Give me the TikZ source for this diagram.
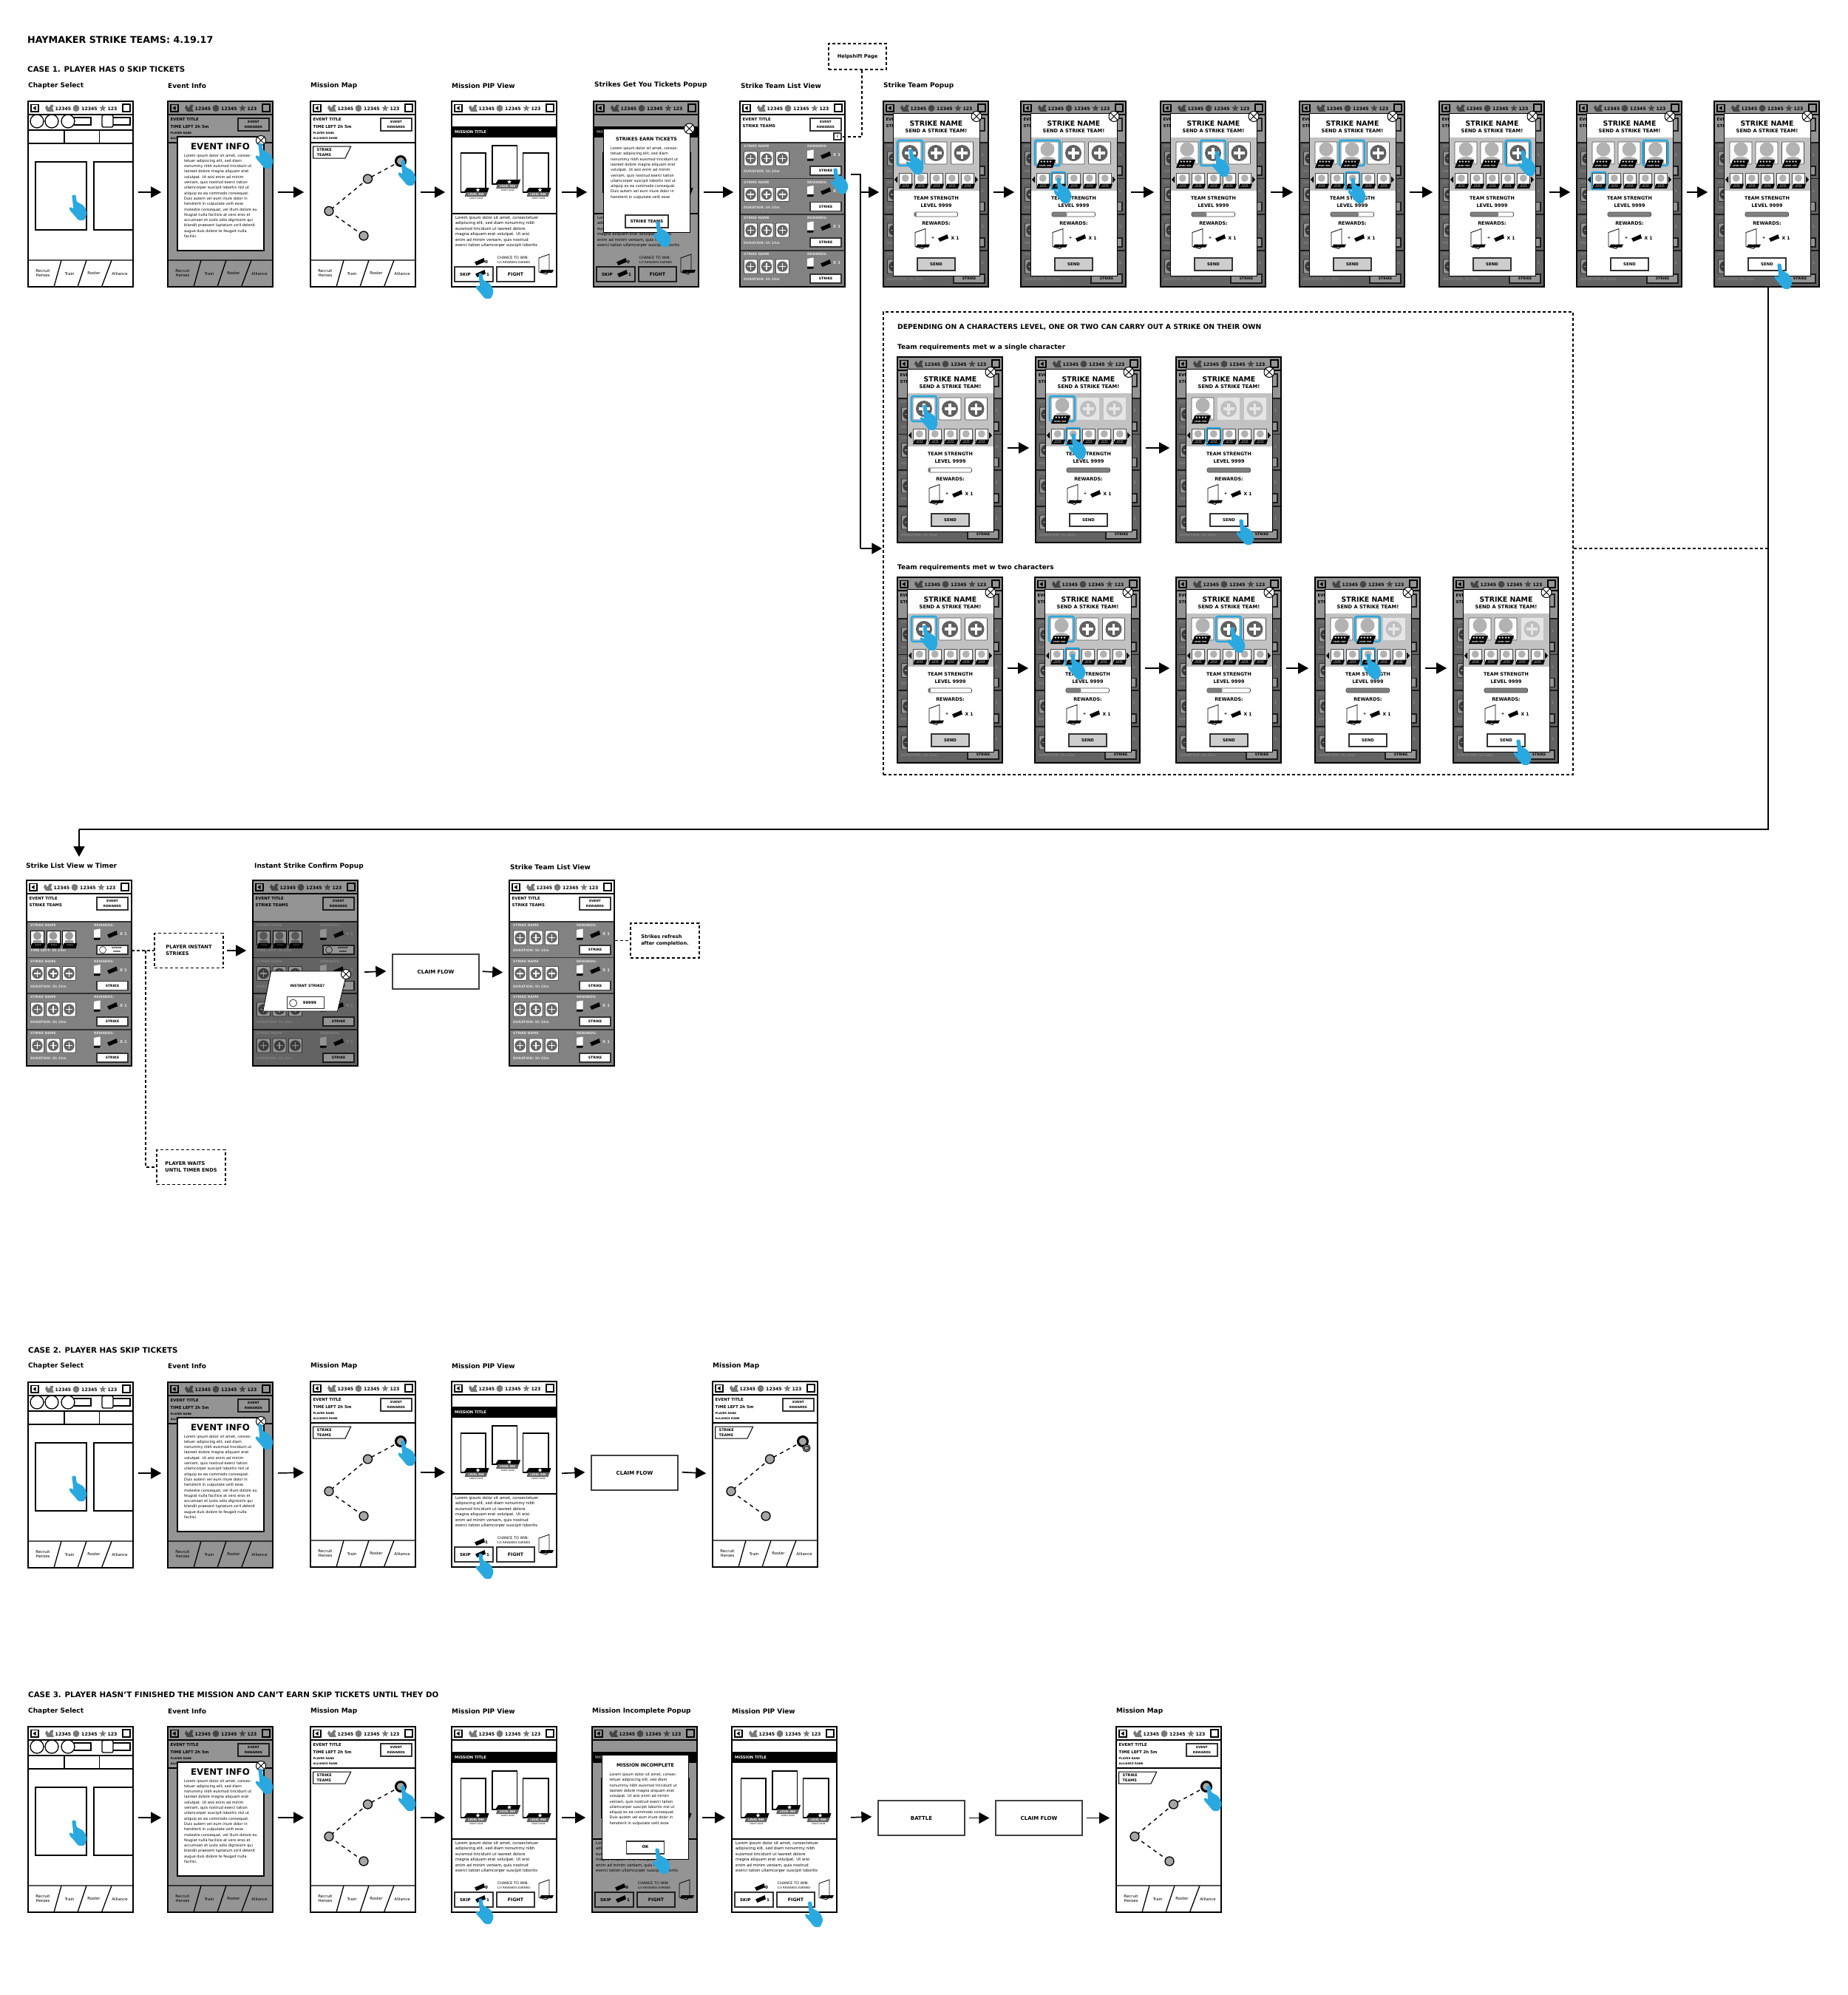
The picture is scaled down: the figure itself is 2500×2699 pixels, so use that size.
\documentclass[tikz,border=0pt]{standalone}
\usepackage{fontspec}
\setmainfont{DejaVu Sans}
\usetikzlibrary{arrows.meta,shapes.geometric}
\definecolor{handblue}{HTML}{29A9E0}
\definecolor{rowgray}{HTML}{828282}
\definecolor{icongray}{HTML}{7A7A7A}
\definecolor{bandgray}{HTML}{C2C2C2}
\definecolor{sendgray}{HTML}{CDCDCD}
\newcommand{\fsz}[2]{\fontsize{#1}{#2}\selectfont}
\tikzset{
 ln/.style={line width=1.3pt,draw=black},
 tb/.style={inner sep=0,anchor=west,font=\bfseries\fsz{#1}{#1}},
 tc/.style={inner sep=0,anchor=center,font=\bfseries\fsz{#1}{#1}},
 tr/.style={inner sep=0,anchor=west,font=\fsz{#1}{#1}},
 trc/.style={inner sep=0,anchor=center,font=\fsz{#1}{#1}},
 frame/.style={draw=black,line width=1.6pt,minimum width=142pt,minimum height=251pt,inner sep=0},
 btn/.style={draw=black!80,line width=1.1pt,fill=white},
 lab/.style={inner sep=0,anchor=west,font=\bfseries\fsz{9}{9}},
 head/.style={inner sep=0,anchor=west,font=\bfseries\fsz{#1}{#1}},
 flow/.style={line width=1.7pt,-{Triangle[length=14pt,width=15pt]},shorten <=#1,shorten >=8pt},
 flow/.default=6pt,
 flowbox/.style={draw=black!75,line width=1.3pt,inner sep=0,fill=white,font=\bfseries\fsz{7}{9},align=center,minimum width=117pt,minimum height=47pt},
 dnote/.style={draw=black,line width=1.6pt,dash pattern=on 4pt off 3pt,inner sep=0,fill=white,align=left,font=\bfseries\fsz{6.6}{9},minimum width=93pt,minimum height=47pt},
 conn/.style={line width=1.6pt},
 dconn/.style={line width=1.5pt,dash pattern=on 4pt off 3pt},
 thinconn/.style={line width=1.2pt,dash pattern=on 4pt off 3pt},
 strs/.style={star,star points=5,star point ratio=2.3,inner sep=0,minimum size=#1,fill=icongray},
}
% ---- small parts
\newcommand{\uiHand}[2]{\fill[handblue,rounded corners=1.6pt,shift={(#1,#2)}]
 (-2.8,-2.4)--(2.6,-2.4)--(3.6,7)--(8,9)--(13,12)--(17,19)--(17.5,24)--(14,32)--(6,32)--(-0.5,24)--(-6,18)--(-6.5,14)--(-3.2,14.5)--(-0.5,17)--cycle;}
\newcommand{\uiTicket}[2]{\fill[black,shift={(#1,#2)}] (-7,0.5)--(3,-3.8)--(5.5,-5)--(7,0.5)--(4.5,1.3)--(-4.5,5)--cycle;}
\newcommand{\uiClose}[3]{\draw[line width=1pt,fill=white] (#1,#2) circle (#3);
 \draw[line width=.9pt] (#1-#3*.7,#2-#3*.7)--(#1+#3*.7,#2+#3*.7) (#1-#3*.7,#2+#3*.7)--(#1+#3*.7,#2-#3*.7);}
\newcommand{\uiCard}[3]{\begin{scope}[shift={(#1,#2)},scale=#3]
 \draw[line width=.8pt,fill=white] (0,5)--(14,0)--(14,23)--(10,27)--(0,24)--cycle;
 \fill[black] (3,21)--(20,21)--(18,25)--(1,25)--cycle;
 \node[tc=3,text=white] at (10,23) {...};
 \end{scope}}
\newcommand{\uiHdr}{%
 \draw[ln,fill=white] (4,4.5) rectangle (14,14);
 \fill (6.5,9.2)--(10.5,6.3)--(10.5,12.2)--cycle;
 \fill[icongray] (25,5)--(28,9)--(31,4.5)--(34.5,5)--(33,9.5)--(35,14)--(26,14)--(23,9)--cycle;
 \node[tc=6.2] at (47.5,9.8) {12345};
 \fill[icongray] (65,9.5) circle (4.5);
 \node[tc=6.2] at (83,9.8) {12345};
 \node[strs=10pt] at (101,9.5) {};
 \node[tc=6.2] at (114,9.8) {123};
 \draw[ln,fill=white] (128,4) rectangle (138,14);
 \draw[ln] (0,18)--(143,18);}
\newcommand{\uiRewardsBtn}{\draw[btn] (95,23) rectangle (137,40);
 \node[tc=4.3] at (116,27.5) {EVENT};
 \node[tc=4.3] at (116,34.5) {REWARDS};}
\newcommand{\uiMapEvt}{%
 \node[tb=5.4] at (3.5,25) {EVENT TITLE};
 \node[tb=5.4] at (3.5,34) {TIME LEFT 2h 5m};
 \node[tb=3.7] at (3.5,43) {PLAYER RANK};
 \node[tb=3.7] at (3.5,50) {ALLIANCE RANK};
 \uiRewardsBtn
 \draw[ln] (0,56)--(143,56);}
\newcommand{\uiTabs}{%
 \draw[ln] (0,215)--(143,215) (45,215)--(35,251) (79,215)--(67,251) (113,215)--(99.5,251);
 \node[trc=5.4] at (20,229) {Recruit};
 \node[trc=5.4] at (20,235.5) {Heroes};
 \node[trc=5.4] at (56,233) {Train};
 \node[trc=5.4] at (89,233) {Roster};
 \node[trc=5.4] at (124,233) {Alliance};}
% ---- screens
\newcommand{\uiChapter}[3]{\begin{scope}[shift={(#2,#3)}]
 \fill[white] (0,0) rectangle (142,251);
 \uiHdr
 \draw[ln] (12,27) circle (9) (32,27) circle (9);
 \draw[ln] (54,27) circle (9);
 \draw[ln] (62,22) -- (85,22) -- (85,32) -- (62,32);
 \draw[ln,rounded corners=2pt] (100,18.5) rectangle (115,35);
 \draw[ln] (115,22) -- (138,22) -- (138,32) -- (115,32);
 \draw[ln] (0,39)--(142,39) (0,57)--(142,57) (49,39)--(49,57) (96.5,39)--(96.5,57);
 \draw[ln] (10,82) rectangle (79,174);
 \draw[ln] (142,82) -- (89,82) -- (89,174) -- (142,174);
 \uiTabs
 \end{scope}
 \node[frame] (#1) at (#2+71,#3+125.5) {};
 \begin{scope}[shift={(#2,#3)}]\uiHand{62}{129}\end{scope}}
\newcommand{\uiEventInfo}[3]{\begin{scope}[shift={(#2,#3)}]
 \fill[white] (0,0) rectangle (142,251);
 \uiHdr \uiMapEvt \uiTabs
 \fill[black,opacity=.42] (0,0) rectangle (142,251);
 \draw[ln,fill=white] (13,48) rectangle (130,202);
 \node[tc=11.8] at (71,61) {EVENT INFO};
 \node[inner sep=0,anchor=north west,align=left,font=\fsz{5}{7.3}] at (22,71) {Lorem ipsum dolor sit amet, consec-\\tetuer adipiscing elit, sed diam\\nonummy nibh euismod tincidunt ut\\laoreet dolore magna aliquam erat\\volutpat. Ut wisi enim ad minim\\veniam, quis nostrud exerci tation\\ullamcorper suscipit lobortis nisl ut\\aliquip ex ea commodo consequat.\\Duis autem vel eum iriure dolor in\\hendrerit in vulputate velit esse\\molestie consequat, vel illum dolore eu\\feugiat nulla facilisis at vero eros et\\accumsan et iusto odio dignissim qui\\blandit praesent luptatum zzril delenit\\augue duis dolore te feugait nulla\\facilisi.};
 \uiClose{126}{53}{6.5}
 \end{scope}
 \node[frame] (#1) at (#2+71,#3+125.5) {};
 \begin{scope}[shift={(#2,#3)}]\uiHand{125}{59}\end{scope}}
\newcommand{\uiMap}[4]{\begin{scope}[shift={(#2,#3)}]
 \fill[white] (0,0) rectangle (142,251);
 \uiHdr \uiMapEvt \uiTabs
 \draw[line width=1pt,fill=white] (3.5,61) -- (54.7,61) -- (47,77) -- (3.5,77) -- cycle;
 \node[tb=5] at (8.5,65.5) {STRIKE};
 \node[tb=5] at (8.5,72.5) {TEAMS};
 \draw[line width=1.4pt,dash pattern=on 5pt off 5pt] (122,81)--(77.5,105)--(25,148.5)--(72,182);
 \draw[line width=3pt,fill=black!35] (122,81) circle (6.5);
 \draw[line width=1.3pt,fill=black!35] (77.5,105) circle (6);
 \draw[line width=1.3pt,fill=black!35] (25,148.5) circle (6);
 \draw[line width=1.3pt,fill=black!35] (72,182) circle (6);
 \end{scope}
 \node[frame] (#1) at (#2+71,#3+125.5) {};
 \begin{scope}[shift={(#2,#3)}]#4\end{scope}}
\newcommand{\uiPipCard}[4]{\draw[ln,fill=white] (#1,#2) rectangle (#3,#4);
 \begin{scope}[shift={(#1,#4)}]
 \fill[black] (8,-6)--(38,-6)--(36,0)--(4,0)--cycle;
 \fill[black!60] (7,0)--(36,0)--(34,6)--(5,6)--cycle;
 \node[star,star points=5,star point ratio=2.3,inner sep=0,minimum size=6pt,fill=white] at (23,-3) {};
 \node[tc=3.6,text=white] at (20.5,3) {LEVEL 999};
 \node[tc=2.4,text=black!70] at (21,9) {ENEMY NAME};
 \end{scope}}
\newcommand{\uiPipBase}[1]{%
 \fill[white] (0,0) rectangle (142,251);
 \uiHdr
 \fill[black] (0,34) rectangle (142,49);
 \node[tb=5.2,text=white] at (4,41.5) {MISSION TITLE};
 \uiPipCard{12.5}{70}{46}{123}
 \uiPipCard{55}{60}{88.5}{112}
 \uiPipCard{96.5}{70}{131}{123}
 \draw[ln] (0,152)--(142,152);
 \node[inner sep=0,anchor=north west,align=left,font=\fsz{5.35}{7.5}] at (5,155) {Lorem ipsum dolor sit amet, consectetuer\\adipiscing elit, sed diam nonummy nibh\\euismod tincidunt ut laoreet dolore\\magna aliquam erat volutpat. Ut wisi\\enim ad minim veniam, quis nostrud\\exerci tation ullamcorper suscipit lobortis};
 \uiTicket{38}{217}
 \node[tb=5.6] at (45,217.5) {#1};
 \node[trc=4.9] at (83,211.5) {CHANCE TO WIN:};
 \node[trc=3.9] at (84,218.5) {1/3 REWARDS EARNED};
 \uiCard{118}{207}{1}
 \draw[btn] (4,224) rectangle (56,244);
 \node[tb=5.6] at (11,234) {SKIP};
 \uiTicket{39}{233}
 \node[tb=5.6] at (47,234) {1};
 \draw[btn] (61,224) rectangle (112,244);
 \node[tc=6.2] at (86.5,234) {FIGHT};}
\newcommand{\uiPip}[5]{\begin{scope}[shift={(#2,#3)}]
 \uiPipBase{#4}
 \end{scope}
 \node[frame] (#1) at (#2+71,#3+125.5) {};
 \begin{scope}[shift={(#2,#3)}]#5\end{scope}}
\newcommand{\uiPopLorem}[2]{\node[inner sep=0,anchor=north west,align=left,font=\fsz{5}{7.3}] at (#1,#2) {Lorem ipsum dolor sit amet, consec-\\tetuer adipiscing elit, sed diam\\nonummy nibh euismod tincidunt ut\\laoreet dolore magna aliquam erat\\volutpat. Ut wisi enim ad minim\\veniam, quis nostrud exerci tation\\ullamcorper suscipit lobortis nisl ut\\aliquip ex ea commodo consequat.\\Duis autem vel eum iriure dolor in\\hendrerit in vulputate velit esse};}
\newcommand{\uiStrikesPop}[3]{\begin{scope}[shift={(#2,#3)}]
 \uiPipBase{0}
 \fill[black,opacity=.42] (0,0) rectangle (142,251);
 \draw[line width=1pt,fill=white] (13,37) rectangle (130,177);
 \node[tc=6.3] at (71.5,51) {STRIKES EARN TICKETS};
 \uiPopLorem{23}{61.5}
 \draw[btn] (43,154) rectangle (101,171);
 \node[tc=5.4] at (72,162.5) {STRIKE TEAMS};
 \uiClose{129.5}{37}{7}
 \end{scope}
 \node[frame] (#1) at (#2+71,#3+125.5) {};
 \begin{scope}[shift={(#2,#3)}]\uiHand{87}{165}\end{scope}}
\newcommand{\uiIncomplete}[3]{\begin{scope}[shift={(#2,#3)}]
 \uiPipBase{0}
 \fill[black,opacity=.42] (0,0) rectangle (142,251);
 \draw[line width=1pt,fill=white] (13.8,38) rectangle (130,179);
 \node[tc=6.3] at (72,52) {MISSION INCOMPLETE};
 \uiPopLorem{23.5}{62.5}
 \draw[btn] (46.5,155) rectangle (97.6,172);
 \node[tc=5.4] at (72,163) {OK};
 \end{scope}
 \node[frame] (#1) at (#2+71,#3+125.5) {};
 \begin{scope}[shift={(#2,#3)}]\uiHand{88}{167}\end{scope}}
% list rows
\newcommand{\uiPlus}[1]{\draw[line width=.8pt,draw=black!70,fill=white,rounded corners=1pt] (#1,12) rectangle (#1+18,31);
 \fill[black!60] (#1+9,21.5) circle (7.2);
 \draw[white,line width=1.8pt] (#1+4.5,21.5)--(#1+13.5,21.5) (#1+9,17)--(#1+9,26);}
\newcommand{\uiRowCommon}{%
 \node[tb=4.5,text=white!88!black] at (91,5) {REWARDS:};
 \node[tb=4.5,text=white!88!black] at (5,5) {STRIKE NAME};
 \fill[white] (91,11)--(99.5,9.5)--(99.5,22)--(91,23)--cycle;
 \fill[black] (91,21.5)--(100,21.5)--(99,24.5)--(91,24.5)--cycle;
 \uiTicket{116}{17}
 \node[tb=5.4,text=white!90!black] at (126,17) {X 1};}
\newcommand{\uiRow}[1]{\begin{scope}[shift={(0,#1)}]
 \fill[rowgray] (0,0) rectangle (142,49);
 \draw[line width=1.2pt,draw=black!80] (0,0)--(142,0);
 \uiRowCommon
 \uiPlus{5.5}\uiPlus{27}\uiPlus{48.5}
 \node[tb=4.5,text=white!88!black] at (5,39) {DURATION: 5h 23m};
 \draw[btn] (95,32) rectangle (137,44);
 \node[tc=4.6] at (116,38) {STRIKE};
 \end{scope}}
\newcommand{\uiRowTimer}[1]{\begin{scope}[shift={(0,#1)}]
 \fill[rowgray] (0,0) rectangle (142,49);
 \draw[line width=1.2pt,draw=black!80] (0,0)--(142,0);
 \uiRowCommon
 \foreach \cx in {5.5,27,48.5} {
  \draw[line width=.5pt,fill=white] (\cx,12) rectangle (\cx+18,31);
  \fill[black!40] (\cx+9,19) circle (5.6);
  \fill[black!40] (\cx+2,31)--(\cx+4,25)--(\cx+14,25)--(\cx+16,31)--cycle;
  \fill[black] (\cx+2,29)--(\cx+20,29)--(\cx+18,36)--(\cx,36)--cycle;
  \node[tc=2.4,text=white] at (\cx+10,32) {\char"2605\char"2605\char"2605\char"2605};
 }
 \node[tb=4.5,text=white!88!black] at (5,39) {TIME LEFT: 5h 23m};
 \draw[btn] (95,32) rectangle (137,44);
 \draw[line width=.5pt] (103,38) circle (4.5);
 \node[tc=2.8] at (122,35.5) {INSTANT};
 \node[tc=2.8] at (122,40.5) {99999};
 \end{scope}}
\newcommand{\uiListTop}{%
 \fill[white] (0,0) rectangle (142,251);
 \uiHdr
 \node[tb=5.4] at (3.5,25) {EVENT TITLE};
 \node[tb=5.4] at (3.5,34) {STRIKE TEAMS};
 \uiRewardsBtn}
\newcommand{\uiList}[4]{\begin{scope}[shift={(#2,#3)}]
 \uiListTop
 \ifnum#4=1 \draw[btn] (127,43) rectangle (137,52); \node[tc=5] at (132,47.5) {i};\fi
 \uiRow{56}\uiRow{104.5}\uiRow{153}\uiRow{202}
 \end{scope}
 \node[frame] (#1) at (#2+71,#3+125.5) {};}
\newcommand{\uiSlotBox}[1]{\draw[line width=.7pt,draw=black!70,fill=white,rounded corners=1pt] (#1,55) rectangle (#1+30,85);}
\newcommand{\uiSlotp}[1]{\uiSlotBox{#1}
 \fill[black!62] (#1+15,70) circle (11);
 \draw[white,line width=3.6pt] (#1+7.5,70)--(#1+22.5,70) (#1+15,62.5)--(#1+15,77.5);}
\newcommand{\uiSlotf}[1]{\fill[black!10] (#1,55) rectangle (#1+30,85);
 \fill[black!25] (#1+15,70) circle (11);
 \draw[black!10,line width=3.6pt] (#1+7.5,70)--(#1+22.5,70) (#1+15,62.5)--(#1+15,77.5);}
\newcommand{\uiSlotc}[1]{\uiSlotBox{#1}
 \begin{scope}[shift={(#1,0)}]
 \fill[black!30] (15,65) circle (9.5);
 \fill[black!30] (3,84) .. controls (4,76) and (10,75) .. (15,75) .. controls (20,75) and (26,76) .. (27,84) -- cycle;
 \fill[black] (4.3,79)--(26,79)--(22,90)--(0,90)--cycle;
 \node[tc=4.6,text=white] at (13,82) {\char"2605\char"2605\char"2605\char"2605};
 \node[tc=2.8,text=white] at (12,87.3) {LEVEL 999};
 \end{scope}}
\def\uiSlots#1#2#3\relax{\csname uiSlot#1\endcsname{21}\csname uiSlot#2\endcsname{56}\csname uiSlot#3\endcsname{91.5}}
% name x y slots hlslot hlroster bar sendfill hand
\newcommand{\uiTeam}[9]{\begin{scope}[shift={(#2,#3)}]
 \colorlet{rowgray}{black!33}
 \uiListTop
 \uiRow{56}\uiRow{104.5}\uiRow{153}\uiRow{202}
 \fill[black,opacity=.42] (0,0) rectangle (142,251);
 \draw[line width=1pt,fill=white] (13.3,16.5) rectangle (130,236);
 \node[tc=9.4] at (71.5,30) {STRIKE NAME};
 \node[tc=6.7] at (71.5,40) {SEND A STRIKE TEAM!};
 \fill[bandgray] (13.8,49) rectangle (129.5,121);
 \ifcase#5\or
  \draw[handblue,line width=2.6pt,rounded corners=2.5pt,fill=white] (19,53) rectangle (53,87);\or
  \draw[handblue,line width=2.6pt,rounded corners=2.5pt,fill=white] (54,53) rectangle (88,87);\or
  \draw[handblue,line width=2.6pt,rounded corners=2.5pt,fill=white] (89.5,53) rectangle (123.5,87);\fi
 \uiSlots#4\relax
 \fill (19,101.5)--(19,110.5)--(15,106)--cycle;
 \fill (124,101.5)--(124,110.5)--(128,106)--cycle;
 \foreach \rx [count=\ri] in {21,42,63,84,105} {
  \ifnum\ri=#6 \draw[handblue,line width=2.2pt,rounded corners=2pt,fill=white] (\rx-1,96)rectangle(\rx+18.5,119);\fi
  \draw[line width=.6pt,draw=black!70,fill=white] (\rx,97.5) rectangle (\rx+17.5,114);
  \fill[black!30] (\rx+8.75,104) circle (5);
  \fill[black] (\rx+2.5,111.5)--(\rx+19,111.5)--(\rx+17,118)--(\rx,118)--cycle;
  \node[tc=2.4,text=white] at (\rx+9.5,113.6) {\char"2605\char"2605\char"2605\char"2605};
  \node[tc=1.6,text=white] at (\rx+9,116.4) {LEVEL 999};
 }
 \node[tc=6.4] at (71.5,131) {TEAM STRENGTH};
 \node[tc=6.4] at (71.5,141) {LEVEL 9999};
 \pgfmathsetmacro{\barw}{42+58.5*#7}
 \fill[black!50,rounded corners=1.5pt] (42,150) rectangle (\barw,156);
 \draw[line width=.7pt,draw=black!70,rounded corners=1.5pt] (42,150) rectangle (100.5,156);
 \node[tc=6.4] at (71.5,165) {REWARDS:};
 \uiCard{43}{172.5}{1}
 \node[tc=5.4] at (67,185) {+};
 \uiTicket{81}{185}
 \node[tc=6] at (97,185) {X 1};
 \draw[btn,fill=#8] (46,212) rectangle (97,229);
 \node[tc=5.4] at (71.5,220.5) {SEND};
 \uiClose{126}{20.5}{7}
 \end{scope}
 \node[frame] (#1) at (#2+71,#3+125.5) {};
 \begin{scope}[shift={(#2,#3)}]#9\end{scope}}
\newcommand{\uiTimerList}[3]{\begin{scope}[shift={(#2,#3)}]
 \uiListTop
 \uiRowTimer{56}\uiRow{104.5}\uiRow{153}\uiRow{202}
 \end{scope}
 \node[frame] (#1) at (#2+71,#3+125.5) {};}
\newcommand{\uiInstant}[3]{\begin{scope}[shift={(#2,#3)}]
 \colorlet{rowgray}{black!33}
 \uiListTop
 \uiRowTimer{56}\uiRow{104.5}\uiRow{153}\uiRow{202}
 \fill[black,opacity=.42] (0,0) rectangle (142,251);
 \draw[line width=.8pt,fill=white] (24.6,123)--(127.7,123)--(114.5,177)--(13.8,177)--cycle;
 \node[tc=4.8] at (73.7,142.7) {INSTANT STRIKE?};
 \draw[btn] (46.8,157.7) rectangle (96.5,173.7);
 \draw[line width=.6pt] (54.6,166) circle (5);
 \node[tc=5.2] at (77,166) {99999};
 \uiClose{126}{127}{6.5}
 \end{scope}
 \node[frame] (#1) at (#2+71,#3+125.5) {};}
\begin{document}
\begin{tikzpicture}[x=1pt,y=-1pt]
\useasboundingbox (0,0) rectangle (2500,2699);
% titles
\node[head=12.7] (title) at (37,54) {HAYMAKER STRIKE TEAMS: 4.19.17};
\node[head=10.3] (caseone) at (37,94) {CASE 1. PLAYER HAS 0 SKIP TICKETS};
\node[lab] (la1) at (38,116) {Chapter Select};
\node[lab] (la2) at (227,116) {Event Info};
\node[lab] (la3) at (420,116) {Mission Map};
\node[lab] (la4) at (611,116) {Mission PIP View};
\node[lab] (la5) at (804,115) {Strikes Get You Tickets Popup};
\node[lab] (la6) at (1002,116) {Strike Team List View};
\node[lab] (la7) at (1195,116) {Strike Team Popup};
% row 1
\uiChapter{fa}{38}{137}
\uiEventInfo{fb}{227}{137}
\uiMap{fc}{420}{137}{\uiHand{125}{82}}
\uiPip{fd}{611}{137}{0}{\uiHand{39}{235}}
\uiStrikesPop{fe}{803}{137}
\uiList{ff}{1001}{137}{1}
\uiHand{1130}{230}
\uiTeam{pa}{1195}{137}{ppp}{1}{0}{.05}{sendgray}{\uiHand{37}{67}}
\uiTeam{pb}{1381}{137}{cpp}{1}{2}{.35}{sendgray}{\uiHand{51}{106}}
\uiTeam{pc}{1570}{137}{cpp}{2}{0}{.35}{sendgray}{\uiHand{76}{70}}
\uiTeam{pd}{1758}{137}{ccp}{2}{3}{.65}{sendgray}{\uiHand{72}{106}}
\uiTeam{pe}{1947}{137}{ccp}{3}{0}{.65}{sendgray}{\uiHand{113}{69}}
\uiTeam{pf}{2133}{137}{ccc}{3}{1}{1}{white}{}
\uiTeam{pg}{2319}{137}{ccc}{0}{0}{1}{white}{\uiHand{88}{222}}
% helpshift
\node[dnote,minimum width=78pt,minimum height=35pt] (help) at (1160,76.5) {Helpshift Page};
\coordinate (infobtn) at (1138,185);
\draw[dconn] (help.south -| 1166,94) |- (infobtn);
% row 1 arrows
\draw[flow] ([yshift=2.5pt]fa.east)--([yshift=2.5pt]fb.west);
\draw[flow] ([yshift=2.5pt]fb.east)--([yshift=2.5pt]fc.west);
\draw[flow] ([yshift=2.5pt]fc.east)--([yshift=2.5pt]fd.west);
\draw[flow] ([yshift=2.5pt]fd.east)--([yshift=2.5pt]fe.west);
\draw[flow] ([yshift=2.5pt]fe.east)--([yshift=2.5pt]ff.west);
\foreach \a/\b in {pa/pb,pb/pc,pc/pd,pd/pe,pe/pf,pf/pg}
 \draw[flow] ([yshift=2.5pt]\a.east)--([yshift=2.5pt]\b.west);
% dashed group
\node[draw=black,line width=1.5pt,dash pattern=on 4pt off 3pt,minimum width=933pt,minimum height=626pt,inner sep=0] (dep) at (1661.5,735) {};
\node[head=9.25] (deptxt) at (1214,443) {DEPENDING ON A CHARACTERS LEVEL, ONE OR TWO CAN CARRY OUT A STRIKE ON THEIR OWN};
\node[lab] (sa0) at (1214,470) {Team requirements met w a single character};
\node[lab] (ta0) at (1214,768) {Team requirements met w two characters};
\uiTeam{sa}{1214}{483}{ppp}{1}{0}{.05}{sendgray}{\uiHand{37}{67}}
\uiTeam{sb}{1401}{483}{cff}{1}{2}{1}{white}{\uiHand{51}{106}}
\uiTeam{sc}{1591}{483}{cff}{0}{2}{1}{white}{\uiHand{88}{222}}
\uiTeam{ta}{1214}{781}{ppp}{1}{0}{.05}{sendgray}{\uiHand{37}{67}}
\uiTeam{tb}{1400}{781}{cpp}{1}{2}{.35}{sendgray}{\uiHand{51}{106}}
\uiTeam{tc}{1591}{781}{cpp}{2}{0}{.35}{sendgray}{\uiHand{76}{70}}
\uiTeam{td}{1779}{781}{ccf}{2}{3}{1}{white}{\uiHand{72}{106}}
\uiTeam{te}{1966}{781}{ccf}{0}{0}{1}{white}{\uiHand{88}{222}}
\foreach \a/\b in {sa/sb,sb/sc,ta/tb,tb/tc,tc/td,td/te}
 \draw[flow] ([yshift=2.5pt]\a.east)--([yshift=2.5pt]\b.west);
% branching solid connectors
\coordinate (strikeout) at (1151,236);
\coordinate (branch) at (1164,236);
\coordinate (branchmid) at (1164,260);
\coordinate (branchlow) at (1164,742);
\coordinate (turnright) at (2392,1122);
\coordinate (timerin) at (107,1159);
\coordinate (joinlow) at (2392,742);
\draw[conn] (strikeout)--(branch)--(branchlow);
\draw[flow=0pt,shorten >=5pt] (branchmid)--(branchmid -| pa.west);
\draw[flow=0pt,shorten >=1pt] (branchlow)--(branchlow -| dep.west);
\draw[dconn,line width=1.2pt] (branchlow -| dep.east)--(joinlow);
\draw[conn] (pg.south -| turnright)--(turnright)--(turnright -| timerin);
\draw[flow=0pt,shorten >=0pt] (turnright -| timerin)--(timerin);
% case 1 lower row
\node[lab] (lb1) at (35,1171) {Strike List View w Timer};
\node[lab] (lb2) at (344,1172) {Instant Strike Confirm Popup};
\node[lab] (lb3) at (690,1173) {Strike Team List View};
\uiTimerList{ga}{36}{1191}
\uiInstant{gb}{342}{1191}
\uiList{gc}{689}{1191}{0}
\node[flowbox] (claimA) at (589.5,1314.5) {CLAIM FLOW};
\node[dnote] (pinst) at (255.5,1286) {PLAYER INSTANT\\STRIKES};
\node[dnote] (pwait) at (258.5,1579) {PLAYER WAITS\\UNTIL TIMER ENDS};
\node[dnote] (refresh) at (899.5,1272.5) {Strikes refresh\\after completion.};
\draw[flow=4pt] (pinst.east)--(pinst.east -| gb.west);
\draw[flow=8pt] ([yshift=1pt]gb.east)--([yshift=1pt]claimA.west);
\draw[flow=4pt] ([yshift=.5pt]claimA.east)--([yshift=.5pt]gc.west);
\coordinate (timerout) at (178,1286);
\coordinate (timerfork) at (197,1286);
\draw[thinconn] (timerout)--(timerout -| pinst.west);
\draw[thinconn] (timerfork)|-(pwait.west);
\draw[thinconn] (gc.east |- refresh.center)--(refresh.west);
% case 2
\node[head=10.3] (casetwo) at (38,1827) {CASE 2. PLAYER HAS SKIP TICKETS};
\node[lab] (lc1) at (38,1848) {Chapter Select};
\node[lab] (lc2) at (227,1848) {Event Info};
\node[lab] (lc3) at (420,1848) {Mission Map};
\node[lab] (lc4) at (611,1848) {Mission PIP View};
\node[lab] (lc5) at (964,1848) {Mission Map};
\uiChapter{ha}{38}{1870}
\uiEventInfo{hb}{227}{1870}
\uiMap{hc}{420}{1869}{\uiHand{125}{82}}
\uiPip{hd}{611}{1869}{1}{\uiHand{39}{235}}
\node[flowbox] (claimB) at (858.5,1992.5) {CLAIM FLOW};
\uiMap{he}{964}{1869}{\draw[line width=1pt,fill=black!35] (127,90) circle (5);\draw[line width=.7pt] (127,90) circle (2.8);}
\draw[flow] ([yshift=2.5pt]ha.east)--([yshift=2.5pt]hb.west);
\draw[flow] ([yshift=2.5pt]hb.east)--([yshift=2.5pt]hc.west);
\draw[flow] ([yshift=2.5pt]hc.east)--([yshift=2.5pt]hd.west);
\draw[flow] ([yshift=1pt]hd.east)--([yshift=1pt]claimB.west);
\draw[flow=5pt] ([yshift=1pt]claimB.east)--([yshift=1pt]he.west);
% case 3
\node[head=10.3] (casethree) at (38,2293) {CASE 3. PLAYER HASN'T FINISHED THE MISSION AND CAN'T EARN SKIP TICKETS UNTIL THEY DO};
\node[lab] (ld1) at (38,2315) {Chapter Select};
\node[lab] (ld2) at (227,2315) {Event Info};
\node[lab] (ld3) at (420,2315) {Mission Map};
\node[lab] (ld4) at (611,2315) {Mission PIP View};
\node[lab] (ld5) at (801,2315) {Mission Incomplete Popup};
\node[lab] (ld6) at (990,2315) {Mission PIP View};
\node[lab] (ld7) at (1510,2315) {Mission Map};
\uiChapter{ia}{38}{2336}
\uiEventInfo{ib}{227}{2336}
\uiMap{ic}{420}{2336}{\uiHand{125}{82}}
\uiPip{id}{611}{2336}{0}{\uiHand{39}{235}}
\uiIncomplete{ie}{801}{2336}
\uiPip{if}{990}{2336}{0}{\uiHand{105.6}{239}}
\node[flowbox] (battle) at (1246.5,2459.5) {BATTLE};
\node[flowbox] (claimC) at (1405.5,2459.5) {CLAIM FLOW};
\uiMap{ig}{1510}{2336}{\uiHand{125}{82}}
\foreach \a/\b in {ia/ib,ib/ic,ic/id,id/ie,ie/if}
 \draw[flow] ([yshift=2.5pt]\a.east)--([yshift=2.5pt]\b.west);
\draw[flow=18pt] ([yshift=2pt]if.east)--([yshift=2pt]battle.west);
\draw[flow=5pt] (battle.east)--(claimC.west);
\draw[flow=5pt] (claimC.east)--(ig.west |- claimC.center);
\end{tikzpicture}
\end{document}
